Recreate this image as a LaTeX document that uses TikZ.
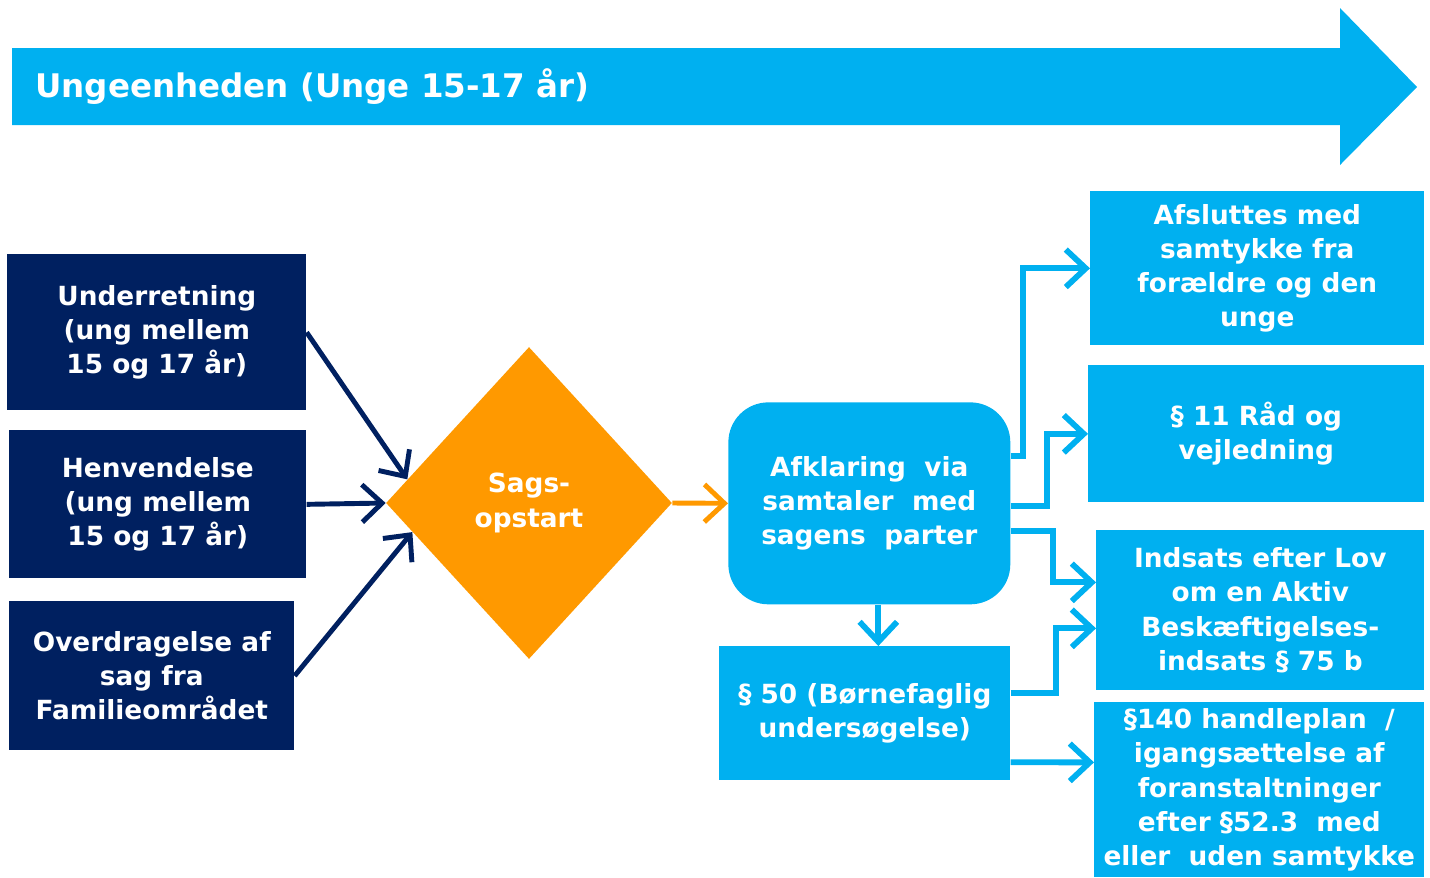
\documentclass[tikz,border=0pt]{standalone}
\usepackage{fontspec}
\setmainfont{DejaVu Sans}
\usepackage{tikz}
\usetikzlibrary{shapes, arrows.meta, positioning}
\definecolor{navy}{HTML}{002060}
\definecolor{cyanblue}{HTML}{00B0F0}
\definecolor{orangey}{HTML}{FF9900}
\tikzset{
  navybox/.style={rectangle, fill=navy, text=white, anchor=north west, align=center, inner sep=2pt},
  bluebox/.style={rectangle, fill=cyanblue, text=white, anchor=north west, align=center, inner sep=2pt},
  decision/.style={diamond, fill=orangey, text=white, align=center, inner sep=0pt, minimum width=5.72cm, minimum height=6.24cm},
  navyarrow/.style={-{Straight Barb[length=4mm, width=7.5mm]}, navy, line width=2.8pt},
  bluearrow/.style={-{Straight Barb[length=4mm, width=7.5mm]}, cyanblue, line width=3.3pt},
  orangearrow/.style={-{Straight Barb[length=4mm, width=7.5mm]}, orangey, line width=2.8pt}
}

\begin{document}
\begin{tikzpicture}[x=0.02cm, y=-0.02cm, every node/.style={font=\bfseries\fontsize{15}{19.5}\selectfont}]
  \useasboundingbox (0,0) rectangle (1430,877);
  % Banner
  \fill[cyanblue] (12,48) -- (1340,48) -- (1340,8) -- (1417,87) -- (1340,165) -- (1340,125) -- (12,125) -- cycle;
  \node[anchor=west, text=white, font=\bfseries\fontsize{18.5}{22}\selectfont] (titel) at (29,87) {Ungeenheden (Unge 15-17 år)};

  % Nodes
  \node[navybox, minimum width=5.98cm, minimum height=3.12cm] (underretning) at (7,254) {Underretning\\(ung mellem\\15 og 17 år)};
  \node[navybox, minimum width=5.94cm, minimum height=2.96cm] (henvendelse) at (9,430) {Henvendelse\\(ung mellem\\15 og 17 år)};
  \node[navybox, minimum width=5.7cm, minimum height=2.98cm] (overdragelse) at (9,601) {Overdragelse af\\sag fra\\Familieområdet};
  \node[decision] (sagsstart) at (529,503) {Sags-\\opstart};
  \node[bluebox, rounded corners=0.8cm, minimum width=5.64cm, minimum height=4.04cm] (afklaring) at (728,402) {Afklaring\ \ via\\samtaler\ \ med\\sagens\ \ parter};
  \node[bluebox, minimum width=5.82cm, minimum height=2.68cm] (par50) at (719,646) {§ 50 (Børnefaglig\\undersøgelse)};
  \node[bluebox, minimum width=6.68cm, minimum height=3.08cm] (afslut) at (1090,191) {Afsluttes med\\samtykke fra\\forældre og den\\unge};
  \node[bluebox, minimum width=6.72cm, minimum height=2.74cm] (raad) at (1088,365) {§ 11 Råd og\\vejledning};
  \node[bluebox, minimum width=6.56cm, minimum height=3.2cm] (indsats) at (1096,530) {Indsats efter Lov\\om en Aktiv\\Beskæftigelses-\\indsats § 75 b};
  \node[bluebox, minimum width=6.6cm, minimum height=3.5cm] (handleplan) at (1094,702) {§140 handleplan\ \ /\\igangsættelse af\\foranstaltninger\\efter §52.3\ \ med\\eller\ \ uden samtykke};

  % Connections
  \draw[navyarrow] (underretning.east) -- (sagsstart.169);
  \draw[navyarrow] (henvendelse.east) -- (sagsstart.west);
  \draw[navyarrow] (overdragelse.east) -- (sagsstart.194);
  \draw[orangearrow] (sagsstart.east) -- (afklaring.west);
  \draw[bluearrow] ([xshift=0.18cm]afklaring.south) -- ([xshift=0.18cm]afklaring.south |- par50.north);
  \draw[bluearrow] ([yshift=0.95cm]afklaring.east) -- ++(12,0) |- (afslut.west);
  \draw[bluearrow] ([yshift=-0.05cm]afklaring.east) -- ++(36,0) |- (raad.west);
  \draw[bluearrow] ([yshift=-0.55cm]afklaring.east) -- ++(42,0) |- ([yshift=0.56cm]indsats.west);
  \draw[bluearrow] ([yshift=0.4cm]par50.east) -- ++(45,0) |- ([yshift=-0.36cm]indsats.west);
  \draw[bluearrow] ([yshift=-0.98cm]par50.east) -- ([yshift=0.55cm]handleplan.west);
\end{tikzpicture}
\end{document}
